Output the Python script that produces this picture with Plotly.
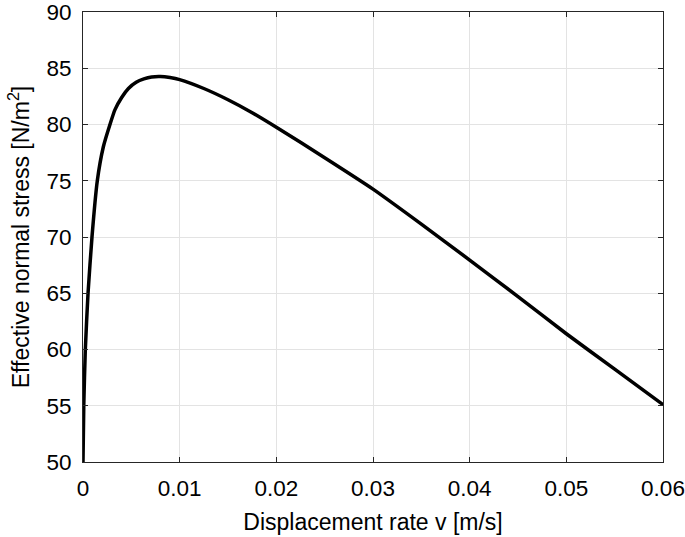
import plotly.graph_objects as go

# values
v_rate = [0, 0.00008, 0.00024, 0.00052, 0.00093, 0.00148, 0.0021, 0.00279,
          0.0033, 0.0040, 0.0047, 0.0055, 0.0063, 0.0071, 0.0080, 0.0090,
          0.0100, 0.0125, 0.0150, 0.0175, 0.0200, 0.025, 0.030, 0.035,
          0.040, 0.045, 0.050, 0.055, 0.060]
stress = [50, 55, 60, 65, 70, 75, 78, 80,
          81.3, 82.4, 83.2, 83.75, 84.05, 84.22, 84.26, 84.17,
          83.99, 83.2, 82.2, 81.05, 79.76, 77.05, 74.26, 71.15,
          67.95, 64.7, 61.4, 58.25, 55.1]

x_ticks = [0, 0.01, 0.02, 0.03, 0.04, 0.05, 0.06]
x_labels = ["0", "0.01", "0.02", "0.03", "0.04", "0.05", "0.06"]
y_ticks = [50, 55, 60, 65, 70, 75, 80, 85, 90]

font = "Liberation Sans, Arial, sans-serif"
axis_col = "#262626"
grid_col = "#e3e3e3"

fig = go.Figure(
    go.Scatter(
        x=v_rate,
        y=stress,
        mode="lines",
        line=dict(color="black", width=3.5, shape="spline", smoothing=0.5),
        showlegend=False,
    )
)

common = dict(
    showline=True,
    linecolor=axis_col,
    linewidth=1,
    mirror="ticks",
    ticks="inside",
    ticklen=5,
    tickcolor=axis_col,
    showgrid=True,
    gridcolor=grid_col,
    gridwidth=1,
    zeroline=False,
    automargin=False,
    ticklabeloverflow="allow",
    tickfont=dict(family=font, size=22.5, color="black"),
)

fig.update_xaxes(
    range=[0, 0.06],
    tickvals=x_ticks,
    ticktext=x_labels,
    ticklabelstandoff=6,
    title=dict(text="Displacement rate v [m/s]", font=dict(family=font, size=23, color="black"), standoff=13),
    **common,
)
fig.update_yaxes(
    range=[50, 90],
    tickvals=y_ticks,
    ticklabelstandoff=6,
    title=dict(text="Effective normal stress [N/m<sup>2</sup>]", font=dict(family=font, size=23, color="black"), standoff=10),
    **common,
)

fig.update_layout(
    width=685,
    height=537,
    margin=dict(l=83, r=22, t=12, b=75),
    plot_bgcolor="white",
    paper_bgcolor="white",
)

fig.write_html(
    "out.html",
    config={"displayModeBar": False},
    post_script="document.body.style.margin='0';",
)
